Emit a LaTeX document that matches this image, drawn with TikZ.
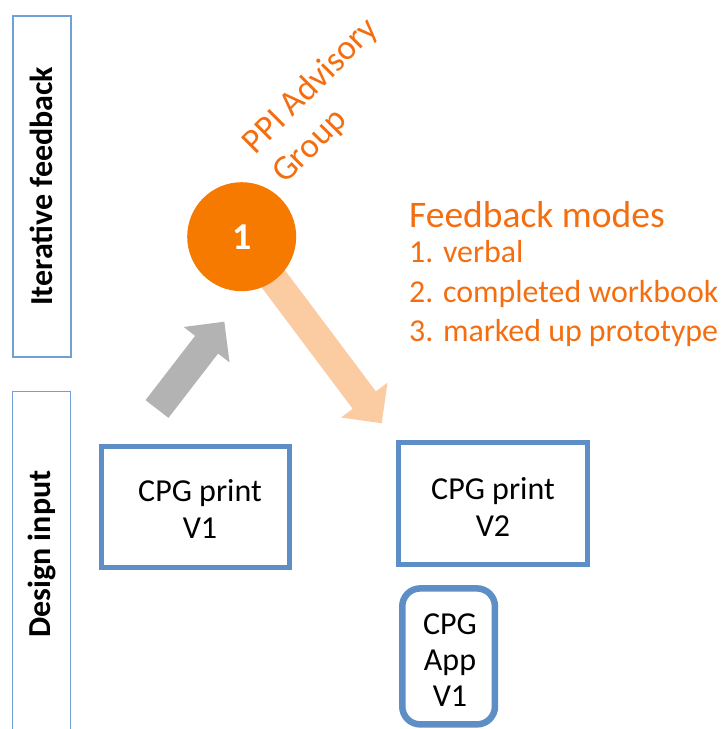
\documentclass[tikz,border=0pt]{standalone}
\usepackage{fontspec}
\setmainfont{Carlito}
\usetikzlibrary{calc}

\definecolor{boxblue}{RGB}{94,142,198}
\definecolor{barblue}{RGB}{112,160,214}
\definecolor{ppiorange}{RGB}{247,122,0}
\definecolor{textorange}{RGB}{244,110,16}
\definecolor{peach}{RGB}{251,203,161}
\definecolor{arrowgray}{RGB}{179,179,179}

% broad block arrow: #1 fill colour, #2 tail, #3 tip, #4 name for the base of the head
\newcommand\blockarrow[4]{%
  \coordinate (#4) at ($(#3)!29pt!(#2)$);
  \fill[#1] ($(#2)!14.5pt!90:(#3)$) -- ($(#4)!14.5pt!90:(#3)$)
    -- ($(#4)!29pt!90:(#3)$) -- (#3) -- ($(#4)!29pt!-90:(#3)$)
    -- ($(#4)!14.5pt!-90:(#3)$) -- ($(#2)!14.5pt!-90:(#3)$) -- cycle;
}

\tikzset{
  bar/.style={draw=barblue, line width=1.5pt, rotate=90, inner sep=0pt,
    font=\fontsize{32}{38}\selectfont\bfseries},
  cpgbox/.style={draw=boxblue, line width=5pt, inner sep=0pt},
  boxtext/.style={align=center, inner sep=0pt, font=\fontsize{32}{37.6}\selectfont},
  ppitext/.style={text=textorange, rotate=45, anchor=base west, inner sep=0pt,
    align=left, font=\fontsize{35}{42}\selectfont},
  modetext/.style={text=textorange, anchor=base west, inner sep=0pt,
    font=\fontsize{31.9}{38}\selectfont},
}

\begin{document}
\begin{tikzpicture}[x=1pt, y=-1pt]
\useasboundingbox (0,0) rectangle (726,729);

% phase bars on the left
\node[bar, minimum width=341pt, minimum height=58pt] (fbbar) at (41.8,186.3) {Iterative feedback};
\draw[barblue, line width=1.5pt] (12.7,729) |- (70.7,391.7) -- (70.7,729);
\node[bar, draw=none] (dibar) at (41.7,554) {Design input};

% feedback arrow from the advisory group (drawn below the circle)
\coordinate (fbtip) at (381.7,423.3);
\coordinate (fbcentre) at (241.7,236.7);
\blockarrow{peach}{fbcentre}{fbtip}{fbhead}

% advisory group (base anchor sits on the last line)
\node[circle, fill=ppiorange, minimum size=109pt, inner sep=0pt, text=white,
  font=\fontsize{38}{40}\selectfont\bfseries] (ppi) at (fbcentre) {1};
\node[ppitext] (ppilabel) at (285,185) {PPI Advisory\\Group};

% input arrow towards the advisory group
\coordinate (gtail) at (157,409);
\coordinate (gtip) at (224.3,321.7);
\blockarrow{arrowgray}{gtail}{gtip}{ghead}

% feedback modes
\node[modetext, font=\fontsize{37.5}{42}\selectfont] (modes) at (409,227) {Feedback modes};
\node[modetext] (mode1) at (409,262) {1. verbal};
\node[modetext] (mode2) at (409,302.5) {2. completed workbook};
\node[modetext] (mode3) at (409,341) {3. marked up prototype};

% design artefacts
\node[cpgbox, minimum width=188pt, minimum height=121pt] (v1) at (195,506.5) {};
\node[boxtext] (v1t) at (200,509) {CPG print\\V1};
\node[cpgbox, minimum width=188.5pt, minimum height=122pt] (v2) at (492.75,503) {};
\node[boxtext] (v2t) at (493,507) {CPG print\\V2};
\node[cpgbox, line width=6.5pt, rounded corners=18pt, minimum width=92.7pt,
  minimum height=136pt] (app) at (448.6,656.4) {};
\node[boxtext, font=\fontsize{32}{36.3}\selectfont] (appt) at (450,660) {CPG\\App\\V1};
\end{tikzpicture}
\end{document}
